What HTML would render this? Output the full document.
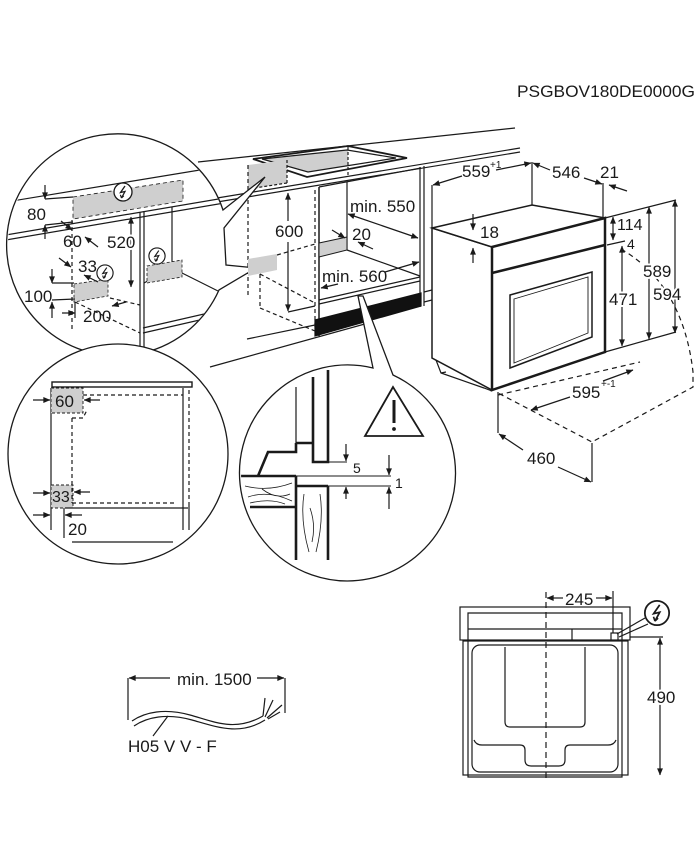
<!DOCTYPE html>
<html><head><meta charset="utf-8"><style>
html,body{margin:0;padding:0;background:#fff;}
svg{display:block;}
text{font-family:"Liberation Sans",Arial,sans-serif;fill:#1a1a1a;font-size:17px;}
.h{stroke:#fff;stroke-width:4px;paint-order:stroke;}
.s{font-size:10px;}
</style></head><body>
<svg width="700" height="865" viewBox="0 0 700 865" xmlns="http://www.w3.org/2000/svg">
<defs>
 <marker id="a" viewBox="0 0 10 10" refX="9.5" refY="5" markerWidth="8" markerHeight="7" markerUnits="userSpaceOnUse" orient="auto-start-reverse"><path d="M0,0.8 L10,5 L0,9.2z" fill="#1a1a1a"/></marker>
 <clipPath id="k1"><circle cx="118" cy="245" r="110"/></clipPath>
 <clipPath id="k2"><circle cx="118" cy="454" r="109"/></clipPath>
 <clipPath id="k3"><circle cx="348" cy="473" r="107"/></clipPath>
 <g id="bolt"><circle r="9" fill="#fff" stroke="#1a1a1a" stroke-width="1.3"/><path d="M2,-6 L-2.5,0.5 L2,-0.5 L-1.5,6" fill="none" stroke="#1a1a1a" stroke-width="1.3"/><path d="M-1.5,6 L-2.6,2.8 M-1.5,6 L0.8,3.8" fill="none" stroke="#1a1a1a" stroke-width="1.2"/></g>
</defs>

<text x="517" y="97" textLength="178" lengthAdjust="spacingAndGlyphs">PSGBOV180DE0000G</text>

<g fill="none" stroke="#1a1a1a" stroke-width="1.2">
 <!-- countertop -->
 <path d="M198,162 L515,128"/>
 <path d="M205,200 L520,148 M205,204 L520,152"/>
 <!-- hob -->
 <polygon points="262,159 347,150 348,150 348,165.6 308,172" fill="#cfcfcf" stroke="none"/>
 <path d="M253,159 L348,146 L407,158 L307,177 Z" stroke-width="1.8"/>
 <path d="M262,159 L347,150 L396,158 L308,172 Z"/>
 <path d="M348,147 L348,177" stroke-dasharray="3,2"/>
 <!-- grey column -->
 <polygon points="248,165 287,160 287,183 248,189" fill="#cfcfcf" stroke="none"/>
 <path d="M248,165 L248,298" stroke-dasharray="4,3"/>
 <path d="M287,160 L287,183 M287,183 L248,189" stroke-dasharray="3,2"/>
 <!-- cabinet -->
 <path d="M319,187 L319,336" stroke-width="1.5"/>
 <path d="M315,190 L315,330" stroke-dasharray="4,3"/>
 <path d="M319,187 L421,168"/>
 <path d="M420,167 L420,307 M424,166 L424,306"/>
 <path d="M347,182 L347,250"/>
 <polygon points="319,243 347,237 347,250 319,257" fill="#cfcfcf" stroke="#1a1a1a" stroke-width="1"/>
 <path d="M347,250 L420,276"/>
 <path d="M319,300 L420,277 M319,304 L420,281"/>
 <polygon points="315,320 421,293 421,306 315,336" fill="#111" stroke="#111"/>
 <path d="M424,292 L432,290 M424,302 L432,300"/>
 <path d="M247,339 L315,325 M210,367 L372,322"/>
 <!-- lower grey box dashed -->
 <path d="M260,274 L260,308 M260,274 L315,303 M260,308 L315,331 M277,255 L315,244" stroke-dasharray="4,3"/>
 <!-- dims -->
 <path d="M288,221 L288,193" marker-end="url(#a)"/>
 <path d="M288,242 L288,311" marker-end="url(#a)"/>
 <path d="M288,312 L315,306"/>
 <path d="M348,214 L418,238" marker-start="url(#a)" marker-end="url(#a)"/>
 <path d="M332,230 L345,238" marker-end="url(#a)"/>
 <path d="M373,249 L358,242" marker-end="url(#a)"/>
 <path d="M338,284 L321,288" marker-end="url(#a)"/>
 <path d="M385,272 L419,262" marker-end="url(#a)"/>

 <!-- oven -->
 <polygon points="432,228 492,247 492,390 432,358" fill="#fff" stroke-width="1.5"/>
 <polygon points="432,228 532,205 605,218 492,247" fill="#fff" stroke-width="1.5"/>
 <polygon points="492,247 605,218 605,352 492,390" fill="#fff" stroke-width="2.5"/>
 <path d="M492,273 L605,245" stroke-width="2.5"/>
 <polygon points="510,295 592,272 592,337 510,368" stroke-width="1.5"/>
 <polygon points="514,299 588,277 588,333 514,363" stroke-width="0.9"/>
 <path d="M436,360 L441,373 L484,388 L492,391 M441,373 L446,372"/>
 <!-- oven dims -->
 <path d="M432,185 L432,228 M532,162 L532,205 M603,183 L603,218"/>
 <path d="M462,176 L433,185" marker-end="url(#a)"/>
 <path d="M496,170 L531,163" marker-end="url(#a)"/>
 <path d="M550,170 L533,163" marker-end="url(#a)"/>
 <path d="M584,178 L602,184" marker-end="url(#a)"/>
 <path d="M627,191 L609,185" marker-end="url(#a)"/>
 <path d="M473,214 L473,230" marker-end="url(#a)"/>
 <path d="M473,263 L473,248" marker-end="url(#a)"/>
 <path d="M605,218 L676,200 M605,352 L676,332 M607,245 L625,241"/>
 <path d="M613,217 L613,240" marker-start="url(#a)" marker-end="url(#a)"/>
 <path d="M622,246 L622,346" marker-start="url(#a)" marker-end="url(#a)"/>
 <path d="M649,207 L649,339" marker-start="url(#a)" marker-end="url(#a)"/>
 <path d="M675,200 L675,333" marker-start="url(#a)" marker-end="url(#a)"/>
 <path d="M621,249 Q683,285 693,372 L693,387 L592,442 L498,393" stroke-dasharray="5,4"/>
 <path d="M498,395 L640,362" stroke-dasharray="5,4"/>
 <path d="M570,397 L531,410" marker-end="url(#a)"/>
 <path d="M603,381 L633,370" marker-end="url(#a)"/>
 <path d="M498,392 L498,433 M592,443 L592,482"/>
 <path d="M523,450 L499,434" marker-end="url(#a)"/>
 <path d="M558,467 L591,482" marker-end="url(#a)"/>
</g>
<text x="275" y="237" class="h">600</text>
<text x="350" y="212">min. 550</text>
<text x="352" y="240">20</text>
<text x="322" y="282">min. 560</text>
<text x="462" y="177">559</text><text x="490" y="168" class="s">+1</text>
<text x="552" y="178">546</text>
<text x="600" y="178">21</text>
<text x="480" y="238">18</text>
<text x="617" y="230" style="font-size:16px">114</text>
<text x="627" y="249" style="font-size:14px">4</text>
<text x="609" y="305" class="h">471</text>
<text x="643" y="277" class="h">589</text>
<text x="653" y="300" class="h">594</text>
<text x="572" y="398" class="h">595</text><text x="601" y="387" class="s">+-1</text>
<text x="527" y="464">460</text>

<!-- C1 -->
<path d="M223,210 L265,177 L224,228 L226,265 L256,268 L219,290 A111,111 0 1,1 223,210 Z" fill="#fff" stroke="#1a1a1a" stroke-width="1.3"/>
<polygon points="248,259 277,254 277,270 248,276" fill="#cfcfcf"/>
<g clip-path="url(#k1)" fill="none" stroke="#1a1a1a" stroke-width="1.2">
 <polygon points="73,197 183,180 183,201 73,219" fill="#cfcfcf" stroke="#1a1a1a" stroke-width="0.8" stroke-dasharray="4,3"/>
 <path d="M0,203 L230,165"/>
 <path d="M0,236 L230,197 M0,241 L230,202"/>
 <path d="M140,212 L140,360 M144,211 L144,360 M172,207 L172,268"/>
 <path d="M172,268 L230,297 M144,283 L172,268"/>
 <path d="M143,328 L230,308 M143,333 L230,313"/>
 <path d="M72,220 L72,330 M75,302 L140,333 M110,298 L140,305" stroke-dasharray="4,3"/>
 <polygon points="74,284 108,279 108,296 74,302" fill="#cfcfcf" stroke="#1a1a1a" stroke-width="0.8" stroke-dasharray="3,2"/>
 <polygon points="147,266 182,260 182,277 147,283" fill="#cfcfcf" stroke="#1a1a1a" stroke-width="0.8" stroke-dasharray="3,2"/>
 <path d="M45,199 L73,197 M45,225 L73,222"/>
 <path d="M45,185 L45,199" marker-end="url(#a)"/>
 <path d="M45,239 L45,225" marker-end="url(#a)"/>
 <path d="M61,221 L72,230" marker-end="url(#a)"/>
 <path d="M98,247 L85,237" marker-end="url(#a)"/>
 <path d="M131,217 L131,287" marker-start="url(#a)" marker-end="url(#a)"/>
 <path d="M59,258 L71,267" marker-end="url(#a)"/>
 <path d="M98,282 L84,275" marker-end="url(#a)"/>
 <path d="M52,283 L74,283 M52,300 L75,299 M75,302 L75,318"/>
 <path d="M52,269 L52,283" marker-end="url(#a)"/>
 <path d="M52,318 L52,302" marker-end="url(#a)"/>
 <path d="M62,313 L75,313" marker-end="url(#a)"/>
 <path d="M126,302 L112,306" marker-end="url(#a)"/>
</g>
<use href="#bolt" transform="translate(123,192)"/>
<use href="#bolt" transform="translate(105,273) scale(0.9)"/>
<use href="#bolt" transform="translate(157,256) scale(0.9)"/>
<text x="27" y="220">80</text>
<text x="63" y="247">60</text>
<text x="107" y="248" class="h">520</text>
<text x="78" y="272">33</text>
<text x="24" y="302">100</text>
<text x="83" y="322">200</text>

<!-- C2 -->
<circle cx="118" cy="454" r="110" fill="#fff" stroke="#1a1a1a" stroke-width="1.3"/>
<g clip-path="url(#k2)" fill="none" stroke="#1a1a1a" stroke-width="1.2">
 <rect x="52" y="382" width="140" height="5" stroke-width="1.4"/>
 <path d="M51,388 L51,530 M183,388 L183,530 M189,505 L189,530"/>
 <path d="M189,390 L189,505" stroke-dasharray="4,3"/>
 <rect x="51" y="388" width="32" height="25" fill="#cfcfcf" stroke-dasharray="3,2" stroke-width="0.9"/>
 <rect x="51" y="485" width="22" height="23" fill="#cfcfcf" stroke-dasharray="3,2" stroke-width="0.9"/>
 <path d="M83,395 L183,395 M72,418 L72,503 M72,418 L83,418 L87,410 M72,503 L175,503" stroke-dasharray="4,3"/>
 <path d="M33,400 L50,400" marker-end="url(#a)"/>
 <path d="M100,400 L84,400" marker-end="url(#a)"/>
 <path d="M33,493 L50,493" marker-end="url(#a)"/>
 <path d="M90,492 L74,492" marker-end="url(#a)"/>
 <path d="M33,515 L50,515" marker-end="url(#a)"/>
 <path d="M82,515 L65,515" marker-end="url(#a)"/>
 <path d="M65,508 L188,508 M64,508 L64,538 M72,542 L173,542"/>
</g>
<text x="55" y="407">60</text>
<text x="52" y="502" style="font-size:16px">33</text>
<text x="68" y="535">20</text>

<!-- C3 -->
<path d="M373,368 L358,296 L363,296 L393,375 A108,108 0 1,1 373,368 Z" fill="#fff" stroke="#1a1a1a" stroke-width="1.3"/>
<g clip-path="url(#k3)" fill="none" stroke="#1a1a1a" stroke-width="1.2">
 <path d="M296,387 L296,443"/>
 <path d="M313,377 L313,462 L328,462 L328,370" stroke-width="2.6"/>
 <path d="M296,443 L313,443 M296,443 L296,452 L268,452 L258,476 M235,476 L296,476" stroke-width="2.6"/>
 <path d="M250,507 L296,507 M296,476 L296,560 M328,486 L328,560 M296,486 L328,486" stroke-width="2.6"/>
 <path d="M245,486 Q268,492 292,483 M248,497 Q268,490 292,501 M262,489 Q276,500 290,494 M250,503 Q270,498 285,504" stroke-width="0.8"/>
 <path d="M304,494 Q300,520 309,552 M320,494 Q324,520 316,552 M310,508 Q316,525 312,542" stroke-width="0.8"/>
 <path d="M328,462 L347,462 M296,476 L391,476 M328,486 L391,486" stroke-width="0.9"/>
 <path d="M346,444 L346,461" marker-end="url(#a)"/>
 <path d="M346,499 L346,487" marker-end="url(#a)"/>
 <path d="M389,455 L389,475" marker-end="url(#a)"/>
 <path d="M389,509 L389,487" marker-end="url(#a)"/>
 <polygon points="393,387 365,436 423,436" stroke-width="1.8"/>
 <path d="M394,400 L394,423" stroke-width="3"/>
</g>
<circle cx="394" cy="429" r="1.9" fill="#1a1a1a"/>
<text x="353" y="473" style="font-size:14px">5</text>
<text x="395" y="488" style="font-size:14px">1</text>

<!-- front view -->
<g fill="none" stroke="#1a1a1a" stroke-width="1.2">
 <rect x="460" y="607" width="170" height="33"/>
 <path d="M468,640 L468,613 L622,613 L622,640"/>
 <path d="M468,629 L622,629 M572,629 L572,640"/>
 <rect x="611" y="633" width="7" height="7" fill="#fff"/>
 <rect x="463" y="641" width="165" height="134"/>
 <path d="M468,641 L468,777 L622,777 L622,641"/>
 <rect x="472" y="645" width="146" height="127" rx="8"/>
 <path d="M505,647 L505,722 Q505,727 510,727 L580,727 Q585,727 585,722 L585,647"/>
 <path d="M474,740 Q476,745 482,745 L520,745 Q525,745 525,750 L525,760 Q525,766 531,766 L559,766 Q565,766 565,760 L565,750 Q565,745 570,745 L608,745 Q614,745 616,740"/>
 <path d="M546,592 L546,782" stroke-dasharray="6,4"/>
 <path d="M563,598 L547,598" marker-end="url(#a)"/>
 <path d="M596,598 L612,598" marker-end="url(#a)"/>
 <path d="M613,591 L613,633"/>
 <path d="M645,618 L617,634 M648,624 L619,637"/>
 <path d="M630,637 L663,637"/>
 <path d="M660,638 L660,775" marker-start="url(#a)" marker-end="url(#a)"/>
</g>
<use href="#bolt" transform="translate(657,613) scale(1.35)"/>
<text x="565" y="605">245</text>
<text x="647" y="703" class="h">490</text>

<!-- cable -->
<g fill="none" stroke="#1a1a1a" stroke-width="1.2">
 <path d="M128,678 L128,720 M285,678 L285,713"/>
 <path d="M170,678 L129,678" marker-end="url(#a)"/>
 <path d="M257,678 L284,678" marker-end="url(#a)"/>
 <path d="M132,721 C145,712 165,708 190,715 C215,722 235,732 263,716"/>
 <path d="M134,726 C147,717 167,713 192,720 C217,727 240,736 265,720"/>
 <path d="M263,716 L265,698 M265,717 L273,700 M267,718 L282,705 M268,719 L280,712"/>
 <path d="M168,716 L153,736"/>
</g>
<text x="177" y="685">min. 1500</text>
<text x="128" y="752">H05 V V - F</text>
</svg>
</body></html>
